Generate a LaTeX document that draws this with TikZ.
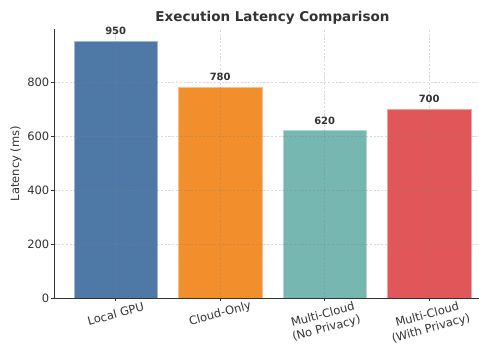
\documentclass[tikz,border=0pt]{standalone}
\usepackage{fontspec}
\setmainfont{DejaVu Sans}
\usetikzlibrary{positioning}

\definecolor{localblue}{HTML}{4E79A7}
\definecolor{cloudorange}{HTML}{F28E2B}
\definecolor{nopriv}{HTML}{76B7B2}
\definecolor{withpriv}{HTML}{E15759}
\definecolor{inkgray}{HTML}{333333}

\tikzset{
  bar/.style={fill=#1, draw=#1!55!white, line width=0.6pt},
  gridline/.style={gray, opacity=0.3, line width=0.5pt, dash pattern=on 2.2pt off 1.6pt},
  spine/.style={inkgray, line width=0.9pt},
  ticklabel/.style={text=inkgray, font=\fontsize{11.5}{14}\selectfont, inner sep=0pt},
  valuelabel/.style={text=inkgray, font=\fontsize{10}{11}\selectfont\bfseries, inner sep=0pt}
}

\begin{document}
\begin{tikzpicture}[x=1pt, y=1pt]
    \useasboundingbox (0,0) rectangle (479,344);

    \node[text=inkgray, font=\fontsize{13.5}{15}\selectfont\bfseries] (title) at (272.5,326) {Execution Latency Comparison};
    \node[ticklabel, rotate=90] (ylab) at (16,180.5) {Latency (ms)};

    % data area: one unit per category, 0.27pt per ms
    \begin{scope}[shift={(115.7,46)}, x=104.5pt, y=0.27pt]
        % bars and their values
        \foreach \i/\val/\col in {0/950/localblue, 1/780/cloudorange, 2/620/nopriv, 3/700/withpriv} {
            \draw[bar=\col] (\i-0.4,0) rectangle (\i+0.4,\val);
            \node[valuelabel, anchor=base, yshift=6.5pt] (v\i) at (\i,\val) {\val};
        }

        % grid over the bars
        \foreach \v in {200,400,600,800}
            \draw[gridline] (-0.586,\v) -- (3.48,\v);
        \foreach \i in {0,...,3}
            \draw[gridline] (\i,0) -- (\i,996);

        % axes
        \coordinate (origin) at (-0.586,0);
        \coordinate (ytop) at (-0.586,996);
        \coordinate (xend) at (3.48,0);
        \draw[spine] (ytop) -- (origin) -- (xend);

        % y ticks
        \foreach \v in {0,200,...,800} {
            \draw[spine, line width=0.7pt] (-0.586,\v) -- ++(-3.5pt,0);
            \node[ticklabel, anchor=east] (yt\v) at ([xshift=-5pt]-0.586,\v) {\v};
        }

        % x ticks and category names
        \foreach \i in {0,...,3}
            \draw[spine, line width=0.7pt] (\i,0) -- ++(0,-3.5pt);
        \node[ticklabel, yshift=-16pt, rotate=15] (c0) at (0,0) {Local GPU};
        \node[ticklabel, yshift=-16pt, rotate=15] (c1) at (1,0) {Cloud-Only};
        \node[ticklabel, yshift=-24pt, rotate=15, align=center] (c2) at (2,0) {Multi-Cloud\\(No Privacy)};
        \node[ticklabel, yshift=-24pt, rotate=15, align=center] (c3) at (3,0) {Multi-Cloud\\(With Privacy)};
    \end{scope}
\end{tikzpicture}
\end{document}
